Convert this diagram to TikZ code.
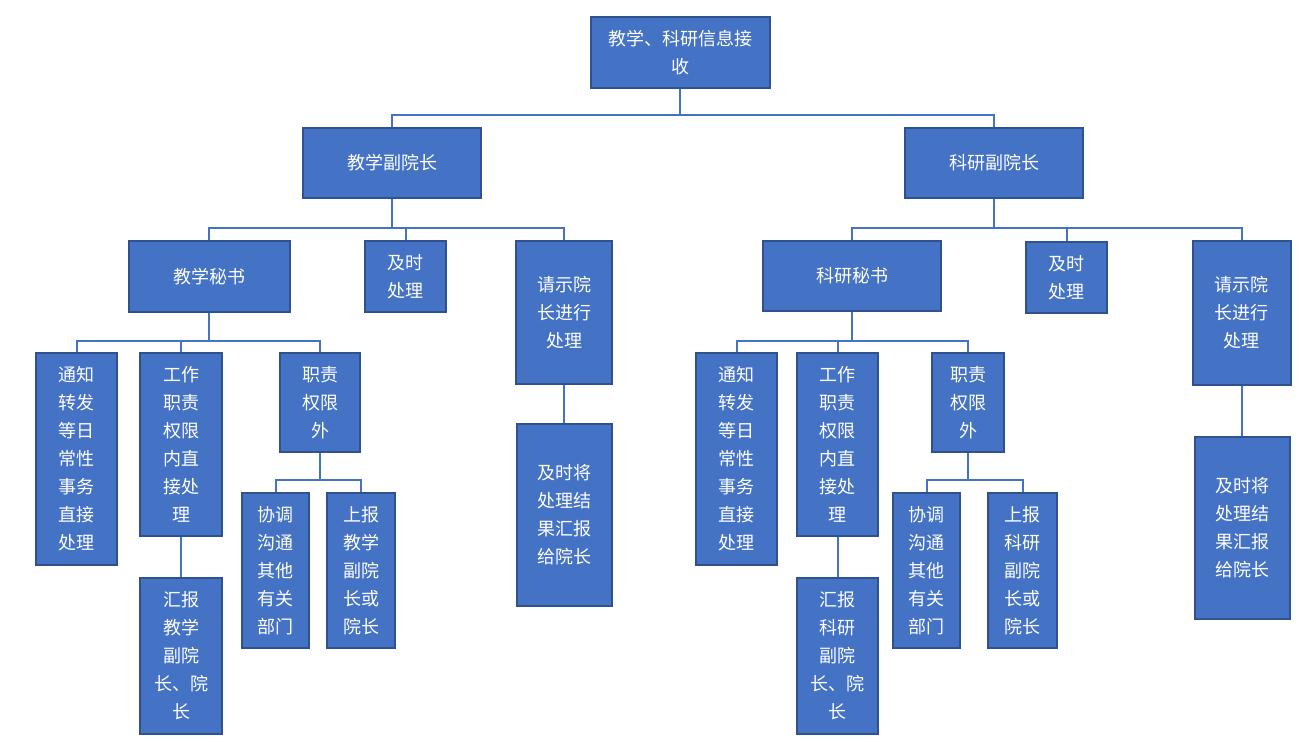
\documentclass[tikz,border=0pt]{standalone}
\usepackage{fontspec}
\newfontfamily\cjk{Noto Sans CJK SC}
\usepackage{tikz}
\usetikzlibrary{positioning}
\definecolor{boxfill}{HTML}{4472C4}
\definecolor{boxline}{HTML}{2F528F}

\begin{document}
\begin{tikzpicture}[x=0.75pt, y=-0.75pt,
    box/.style={rectangle, draw=boxline, fill=boxfill, line width=1.5pt, text=white, align=center, inner sep=0pt, font=\cjk\fontsize{13.5}{21}\selectfont},
    boxsize/.style 2 args={minimum width=#1*0.75pt, minimum height=#2*0.75pt},
    link/.style={draw=boxfill, line width=1.5pt}]
    \useasboundingbox (0,0) rectangle (1313,742);

    % top
    \node (root) [box, boxsize={179}{71}] at (680,52.5) {教学、科研信息接\\收};
    \node (jxfyz) [box, boxsize={178}{70}] at (392,163) {教学副院长};
    \node (kyfyz) [box, boxsize={178}{70}] at (994,163) {科研副院长};

    % teaching side
    \node (jxms) [box, boxsize={161}{71}] at (209,276.5) {教学秘书};
    \node (jscl1) [box, boxsize={81}{71}] at (405.5,276.5) {及时\\处理};
    \node (qs1) [box, boxsize={96}{143}] at (564,312.5) {请示院\\长进行\\处理};
    \node (jsj1) [box, boxsize={95}{182}] at (564,515) {及时将\\处理结\\果汇报\\给院长};
    \node (tz1) [box, boxsize={81}{212}] at (76.5,459) {通知\\转发\\等日\\常性\\事务\\直接\\处理};
    \node (gz1) [box, boxsize={82}{183}] at (181,444.5) {工作\\职责\\权限\\内直\\接处\\理};
    \node (zz1) [box, boxsize={80}{99}] at (320,402.5) {职责\\权限\\外};
    \node (hb1) [box, boxsize={82}{156}] at (181,656) {汇报\\教学\\副院\\长、院\\长};
    \node (xt1) [box, boxsize={67}{155}] at (275.5,570.5) {协调\\沟通\\其他\\有关\\部门};
    \node (sb1) [box, boxsize={68}{155}] at (361,570.5) {上报\\教学\\副院\\长或\\院长};

    % research side
    \node (kyms) [box, boxsize={178}{70}] at (852,276) {科研秘书};
    \node (jscl2) [box, boxsize={81}{71}] at (1066.5,277.5) {及时\\处理};
    \node (qs2) [box, boxsize={98}{144}] at (1241.5,313) {请示院\\长进行\\处理};
    \node (jsj2) [box, boxsize={95}{182}] at (1242.5,528) {及时将\\处理结\\果汇报\\给院长};
    \node (tz2) [box, boxsize={81}{212}] at (736.5,459) {通知\\转发\\等日\\常性\\事务\\直接\\处理};
    \node (gz2) [box, boxsize={81}{183}] at (837.5,444.5) {工作\\职责\\权限\\内直\\接处\\理};
    \node (zz2) [box, boxsize={72}{99}] at (968,402.5) {职责\\权限\\外};
    \node (hb2) [box, boxsize={81}{156}] at (837.5,656) {汇报\\科研\\副院\\长、院\\长};
    \node (xt2) [box, boxsize={67}{155}] at (926.5,570.5) {协调\\沟通\\其他\\有关\\部门};
    \node (sb2) [box, boxsize={69}{155}] at (1022.5,570.5) {上报\\科研\\副院\\长或\\院长};

    % connectors
    \draw[link] (root.south) -- ++(0,26) -| (jxfyz.north);
    \draw[link] (root.south) -- ++(0,26) -| (kyfyz.north);

    \draw[link] (jxfyz.south) -- ++(0,29) -| (jxms.north);
    \draw[link] (jxfyz.south) -- ++(0,29) -| (jscl1.north);
    \draw[link] (jxfyz.south) -- ++(0,29) -| (qs1.north);
    \draw[link] (qs1.south) -- (qs1.south |- jsj1.north);
    \draw[link] (jxms.south) -- ++(0,28) -| (tz1.north);
    \draw[link] (jxms.south) -- ++(0,28) -| (gz1.north);
    \draw[link] (jxms.south) -- ++(0,28) -| (zz1.north);
    \draw[link] (gz1.south) -- (gz1.south |- hb1.north);
    \draw[link] (zz1.south) -- ++(0,27) -| (xt1.north);
    \draw[link] (zz1.south) -- ++(0,27) -| (sb1.north);

    \draw[link] (kyfyz.south) -- ++(0,29) -| (kyms.north);
    \draw[link] (kyfyz.south) -- ++(0,29) -| (jscl2.north);
    \draw[link] (kyfyz.south) -- ++(0,29) -| (qs2.north);
    \draw[link] (qs2.south) -- (qs2.south |- jsj2.north);
    \draw[link] (kyms.south) -- ++(0,29) -| (tz2.north);
    \draw[link] (kyms.south) -- ++(0,29) -| (gz2.north);
    \draw[link] (kyms.south) -- ++(0,29) -| (zz2.north);
    \draw[link] (gz2.south) -- (gz2.south |- hb2.north);
    \draw[link] (zz2.south) -- ++(0,27) -| (xt2.north);
    \draw[link] (zz2.south) -- ++(0,27) -| (sb2.north);
\end{tikzpicture}
\end{document}
